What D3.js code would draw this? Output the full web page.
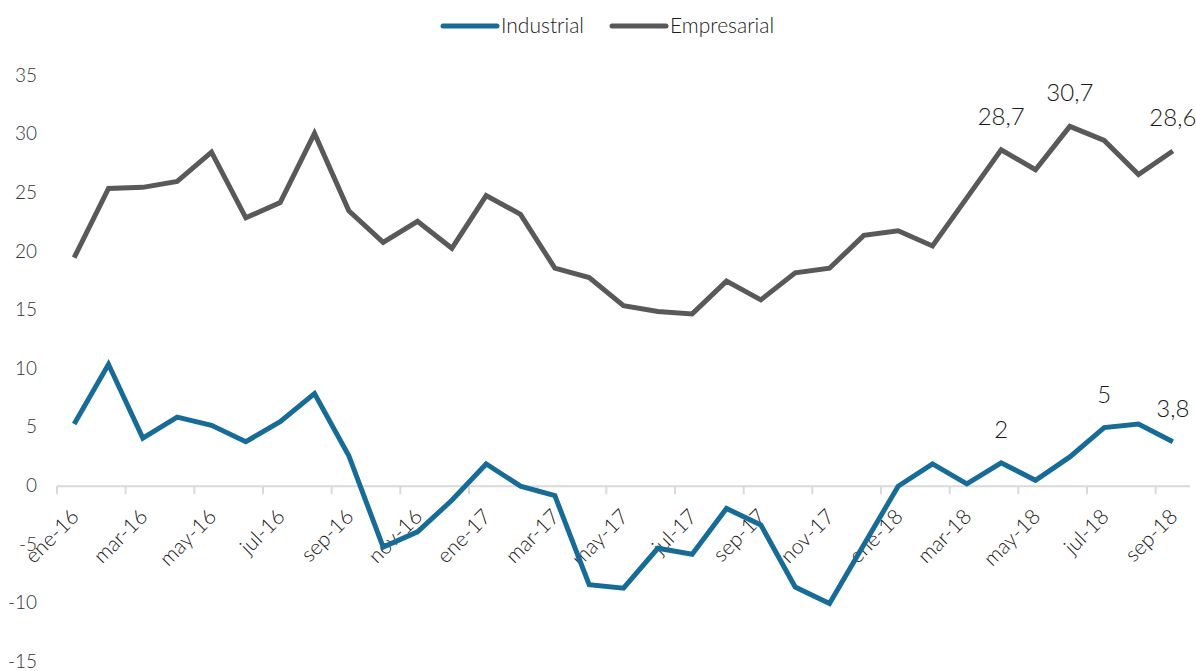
<!DOCTYPE html>
<html>
<head>
<meta charset="utf-8">
<script src="https://cdn.jsdelivr.net/npm/d3@7"></script>
<style>
  body { margin: 0; background: #fff; }
  svg { display: block; font-family: Lato, "Open Sans", sans-serif; font-weight: 300; }
</style>
</head>
<body>
<div id="chart"></div>
<script>
// months ene-16 .. sep-18
var months = ['ene','feb','mar','abr','may','jun','jul','ago','sep','oct','nov','dic'];
var categories = [];
for (var yy = 16; yy <= 18; yy++) {
  months.forEach(function(m, k) {
    if (yy === 18 && k > 8) return;
    categories.push(m + '-' + yy);
  });
}

var industrial = [5.3, 10.4, 4.1, 5.9, 5.2, 3.8, 5.5, 7.9, 2.6, -5.2, -3.9, -1.2,
  1.9, 0.0, -0.8, -8.4, -8.7, -5.3, -5.8, -1.9, -3.3, -8.6, -10.0, -5.0,
  0.0, 1.9, 0.2, 2.0, 0.5, 2.5, 5.0, 5.3, 3.8];

var empresarial = [19.5, 25.4, 25.5, 26.0, 28.5, 22.9, 24.2, 30.1, 23.5, 20.8, 22.6, 20.3,
  24.8, 23.2, 18.6, 17.8, 15.4, 14.9, 14.7, 17.5, 15.9, 18.2, 18.6, 21.4,
  21.8, 20.5, 24.6, 28.7, 27.0, 30.7, 29.5, 26.6, 28.6];

var yTicks = [-15, -10, -5, 0, 5, 10, 15, 20, 25, 30, 35];

// which points get a value label
var industrialLabels = [27, 30, 32];
var empresarialLabels = [27, 29, 32];

var series = [
  {name: 'Industrial', values: industrial, labels: industrialLabels, color: '#166c97'},
  {name: 'Empresarial', values: empresarial, labels: empresarialLabels, color: '#595959'}
];

var width = 1196, height = 671;
var plot = {left: 57, right: 1190, top: 76, bottom: 662};

var svg = d3.select('#chart').append('svg')
  .attr('width', width)
  .attr('height', height);

var x = d3.scaleBand()
  .domain(categories)
  .range([plot.left, plot.right])
  .paddingInner(0)
  .paddingOuter(0);

var y = d3.scaleLinear()
  .domain([-15, 35])
  .range([plot.bottom, plot.top]);

var cx = function(d) { return x(d) + x.bandwidth() / 2; };

var locale = d3.formatLocale({decimal: ',', thousands: '.', grouping: [3], currency: ['', '']});
var fmt = function(v) {
  return Math.round(v) === v ? locale.format('d')(v) : locale.format('.1f')(v);
};

// y axis labels (no axis line)
var yAxis = svg.append('g')
  .attr('transform', 'translate(37,0)')
  .call(d3.axisLeft(y).tickValues(yTicks).tickSize(0).tickPadding(0).tickFormat(function(d) { return d; }));
yAxis.select('.domain').remove();
yAxis.selectAll('text')
  .attr('fill', '#333')
  .attr('dy', '0.28em')
  .style('font-size', '19px')
  .style('font-family', 'Lato, sans-serif');

// zero line with tick marks
var zero = y(0);
svg.append('line')
  .attr('x1', plot.left).attr('x2', plot.right)
  .attr('y1', zero).attr('y2', zero)
  .attr('stroke', '#d9d9d9')
  .attr('stroke-width', 2);

svg.selectAll('.tick-mark')
  .data(categories.filter(function(d, i) { return i % 2 === 0; }))
  .enter()
  .append('line')
  .attr('class', 'tick-mark')
  .attr('x1', function(d) { return x(d); })
  .attr('x2', function(d) { return x(d); })
  .attr('y1', zero)
  .attr('y2', zero + 8)
  .attr('stroke', '#d9d9d9')
  .attr('stroke-width', 2);

// x labels, rotated
svg.selectAll('.x-label')
  .data(categories.filter(function(d, i) { return i % 2 === 0; }))
  .enter()
  .append('text')
  .attr('class', 'x-label')
  .attr('transform', function(d) { return 'translate(' + (cx(d) + 6) + ',' + 518 + ') rotate(-45)'; })
  .attr('text-anchor', 'end')
  .attr('fill', '#1a1a1a')
  .style('font-size', '21px')
  .text(function(d) { return d; });

// lines
var line = d3.line()
  .x(function(d, i) { return cx(categories[i]); })
  .y(function(d) { return y(d); });

svg.selectAll('.series')
  .data(series)
  .enter()
  .append('path')
  .attr('class', 'series')
  .attr('d', function(s) { return line(s.values); })
  .attr('fill', 'none')
  .attr('stroke', function(s) { return s.color; })
  .attr('stroke-width', 5)
  .attr('stroke-linejoin', 'miter');

// value labels
series.forEach(function(s) {
  svg.selectAll(null)
    .data(s.labels)
    .enter()
    .append('text')
    .attr('x', function(i) { return cx(categories[i]); })
    .attr('y', function(i) { return y(s.values[i]) - 25; })
    .attr('text-anchor', 'middle')
    .attr('fill', '#1a1a1a')
    .style('font-size', '24px')
    .text(function(i) { return fmt(s.values[i]); });
});

// legend
var legend = svg.append('g');
var legendPos = [443, 612];
series.forEach(function(s, i) {
  var lx = legendPos[i];
  legend.append('line')
    .attr('x1', lx).attr('x2', lx + 54)
    .attr('y1', 26).attr('y2', 26)
    .attr('stroke', s.color)
    .attr('stroke-width', 5)
    .attr('stroke-linecap', 'round');
  legend.append('text')
    .attr('x', lx + 58)
    .attr('y', 33)
    .attr('fill', '#1a1a1a')
    .style('font-size', '21px')
    .text(s.name);
});
</script>
</body>
</html>
